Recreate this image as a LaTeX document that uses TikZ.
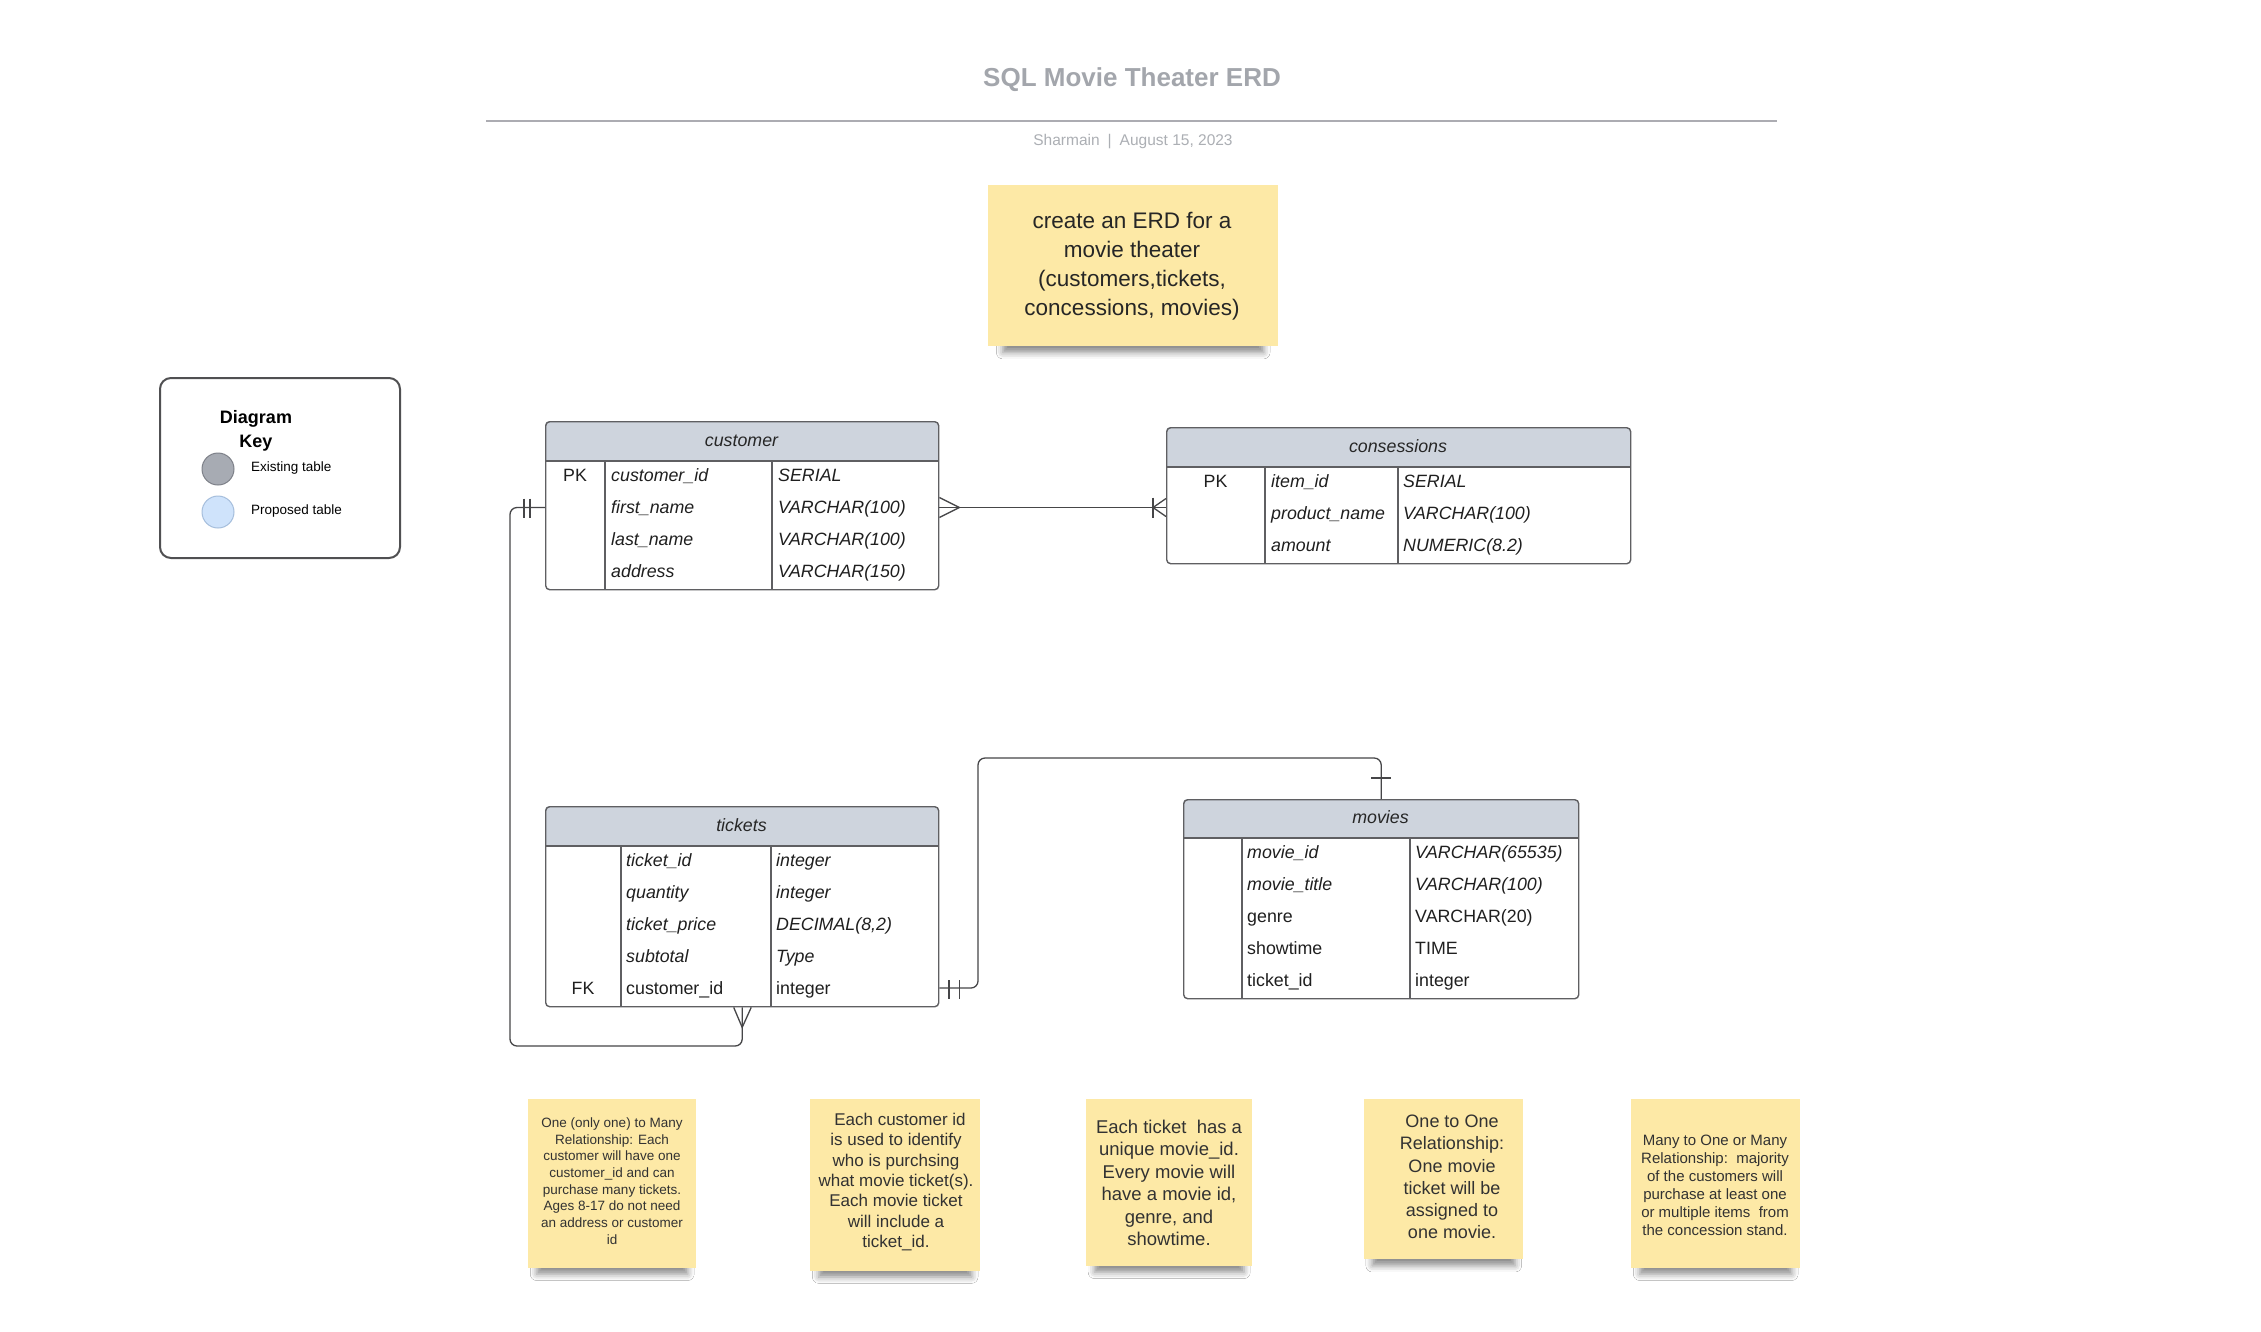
\documentclass[tikz,border=0pt]{standalone}
\usepackage{fontspec}
\setmainfont{Liberation Sans}
\usetikzlibrary{calc,shadows.blur}
\definecolor{hdr}{RGB}{206,212,221}
\definecolor{tline}{RGB}{95,95,98}
\definecolor{stickyc}{RGB}{253,233,166}
\definecolor{titlegray}{RGB}{163,166,172}
\definecolor{rulegray}{RGB}{172,172,178}
\definecolor{connc}{RGB}{70,70,72}
\definecolor{existc}{RGB}{167,171,179}
\definecolor{existb}{RGB}{125,128,136}
\definecolor{propc}{RGB}{207,227,251}
\definecolor{propb}{RGB}{165,190,220}
\definecolor{keyb}{RGB}{80,80,82}
\definecolor{notetext}{RGB}{50,50,50}
\begin{document}
\begin{tikzpicture}[x=1pt,y=-1pt,
  tblbox/.style={draw=tline,line width=1.4pt,rounded corners=4pt,inner sep=0pt},
  tline/.style={draw=tline,line width=1.4pt},
  tt/.style={font=\fontsize{17.8}{20}\selectfont,anchor=west,inner sep=0pt,text height=12.8pt,text depth=0pt,text=black!88},
  ti/.style={tt,font=\fontsize{17.8}{20}\selectfont\itshape},
  tc/.style={tt,anchor=center},
  hd/.style={font=\fontsize{17.8}{20}\selectfont\itshape,inner sep=0pt,text height=12.8pt,text depth=0pt,text=black!85},
  conn/.style={draw=connc,line width=1.3pt},
  note/.style={fill=stickyc,draw=none,inner sep=0pt,anchor=north west,
    blur shadow={shadow xshift=0pt,shadow yshift=-16pt,shadow blur radius=7pt,shadow opacity=45,shadow scale=0.9}},
  notetxt/.style={align=center,inner sep=0pt,text=notetext}
]
\useasboundingbox (0,0) rectangle (2261,1331);
\fill[white] (0,0) rectangle (2261,1331);

% ---------- title ----------
\node[font=\bfseries\fontsize{26}{30}\selectfont,text=titlegray] (title) at (1132,80) {SQL Movie Theater ERD};
\coordinate (ruleL) at (486,121);
\coordinate (ruleR) at (1777,121);
\draw[rulegray,line width=2.2pt] (ruleL) -- (ruleR);
\node[font=\fontsize{15.5}{18}\selectfont,text=titlegray!90] (sub) at (1133,142) {Sharmain\hspace{8pt}|\hspace{8pt}August 15, 2023};

% ---------- top sticky ----------
\node[note,minimum width=290pt,minimum height=161pt] (s0) at (988,185) {};
\node[notetxt,text=black!85,font=\fontsize{22.5}{28.8}\selectfont] (s0t) at (1132,266) {create an ERD for a\\movie theater\\(customers,tickets,\\concessions, movies)};

% ---------- diagram key ----------
\node[draw=keyb,line width=2pt,rounded corners=11pt,minimum width=240pt,minimum height=180pt,anchor=north west,inner sep=0pt] (key) at (159,377) {};
\node[font=\bfseries\fontsize{18}{22}\selectfont] (keyt1) at (256,419) {Diagram};
\node[font=\bfseries\fontsize{18}{22}\selectfont] (keyt2) at (256,443) {Key};
\node[circle,fill=existc,draw=existb,line width=1pt,minimum size=32pt,inner sep=0pt] (kc1) at (218,469) {};
\node[circle,fill=propc,draw=propb,line width=1pt,minimum size=32pt,inner sep=0pt] (kc2) at (218,512) {};
\node[font=\fontsize{13.5}{16}\selectfont,anchor=west,inner sep=0pt] (kl1) at (251,468) {Existing table};
\node[font=\fontsize{13.5}{16}\selectfont,anchor=west,inner sep=0pt] (kl2) at (251,511) {Proposed table};

% ---------- customer ----------
\begin{scope}
\clip[rounded corners=4pt] (545,421) rectangle (938,589);
\fill[hdr] (545,421) rectangle (938,461);
\end{scope}
\node[tblbox,minimum width=393pt,minimum height=168pt,anchor=north west] (customer) at (545,421) {};
\draw[tline] (545,461) -- (938,461) (605,461) -- (605,589) (772,461) -- (772,589);
\node[hd] (cuh) at (741.5,440) {customer};
\node[tc] (cupk) at (575,475) {PK};
\node[ti] (cu1) at (611,475) {customer\_id};
\node[ti] (cu2) at (611,507.5) {first\_name};
\node[ti] (cu3) at (611,539.5) {last\_name};
\node[ti] (cu4) at (611,571) {address};
\node[ti] (cut1) at (778,475) {SERIAL};
\node[ti] (cut2) at (778,507.5) {VARCHAR(100)};
\node[ti] (cut3) at (778,539.5) {VARCHAR(100)};
\node[ti] (cut4) at (778,571) {VARCHAR(150)};

% ---------- consessions ----------
\begin{scope}
\clip[rounded corners=4pt] (1166,427) rectangle (1630,563);
\fill[hdr] (1166,427) rectangle (1630,467);
\end{scope}
\node[tblbox,minimum width=464pt,minimum height=136pt,anchor=north west] (consessions) at (1166,427) {};
\draw[tline] (1166,467) -- (1630,467) (1265,467) -- (1265,563) (1398,467) -- (1398,563);
\node[hd] (coh) at (1398,446) {consessions};
\node[tc] (copk) at (1215.5,481) {PK};
\node[ti] (co1) at (1271,481) {item\_id};
\node[ti] (co2) at (1271,513) {product\_name};
\node[ti] (co3) at (1271,545) {amount};
\node[ti] (cot1) at (1403,481) {SERIAL};
\node[ti] (cot2) at (1403,513) {VARCHAR(100)};
\node[ti] (cot3) at (1403,545) {NUMERIC(8.2)};

% ---------- tickets ----------
\begin{scope}
\clip[rounded corners=4pt] (545,806) rectangle (938,1006);
\fill[hdr] (545,806) rectangle (938,846);
\end{scope}
\node[tblbox,minimum width=393pt,minimum height=200pt,anchor=north west] (tickets) at (545,806) {};
\draw[tline] (545,846) -- (938,846) (621,846) -- (621,1006) (771,846) -- (771,1006);
\node[hd] (tkh) at (741.5,825) {tickets};
\node[ti] (tk1) at (626,860) {ticket\_id};
\node[ti] (tk2) at (626,892) {quantity};
\node[ti] (tk3) at (626,924) {ticket\_price};
\node[ti] (tk4) at (626,956) {subtotal};
\node[tt] (tk5) at (626,988) {customer\_id};
\node[tc] (tkfk) at (583,988) {FK};
\node[ti] (tkt1) at (776,860) {integer};
\node[ti] (tkt2) at (776,892) {integer};
\node[ti] (tkt3) at (776,924) {DECIMAL(8,2)};
\node[ti] (tkt4) at (776,956) {Type};
\node[tt] (tkt5) at (776,988) {integer};

% ---------- movies ----------
\begin{scope}
\clip[rounded corners=4pt] (1183,799) rectangle (1578,998);
\fill[hdr] (1183,799) rectangle (1578,838);
\end{scope}
\node[tblbox,minimum width=395pt,minimum height=199pt,anchor=north west] (movies) at (1183,799) {};
\draw[tline] (1183,838) -- (1578,838) (1242,838) -- (1242,998) (1410,838) -- (1410,998);
\node[hd] (mvh) at (1380.5,817) {movies};
\node[ti] (mv1) at (1247,852) {movie\_id};
\node[ti] (mv2) at (1247,884) {movie\_title};
\node[tt] (mv3) at (1247,916) {genre};
\node[tt] (mv4) at (1247,948) {showtime};
\node[tt] (mv5) at (1247,980) {ticket\_id};
\node[ti] (mvt1) at (1415,852) {VARCHAR(65535)};
\node[ti] (mvt2) at (1415,884) {VARCHAR(100)};
\node[tt] (mvt3) at (1415,916) {VARCHAR(20)};
\node[tt] (mvt4) at (1415,948) {TIME};
\node[tt] (mvt5) at (1415,980) {integer};

% ---------- connectors ----------
% customer -- consessions
\coordinate (ce) at (customer.east |- cu2);
\coordinate (cw) at (consessions.west |- cu2);
\draw[conn] (ce) -- (cw);
\draw[conn] ($(ce)+(0,-10)$) -- ($(ce)+(20,0)$) -- ($(ce)+(0,10)$);
\draw[conn] ($(cw)+(0,-9)$) -- ($(cw)+(-13,0)$) -- ($(cw)+(0,9)$);
\draw[conn] ($(cw)+(-13,-10)$) -- ($(cw)+(-13,10)$);

% customer -- tickets
\coordinate (cwest) at (customer.west |- cu2);
\coordinate (k1) at (510,1046);
\draw[conn,rounded corners=7pt] (cwest) -| (k1) -| (tickets.south);
\draw[conn] ($(cwest)+(-21,-9)$) -- ($(cwest)+(-21,10)$);
\draw[conn] ($(cwest)+(-15,-9)$) -- ($(cwest)+(-15,10)$);
\draw[conn] ($(tickets.south)+(-8.5,0)$) -- ($(tickets.south)+(0,20)$) -- ($(tickets.south)+(9,0)$);

% tickets -- movies
\coordinate (teast) at (tickets.east |- tk5);
\coordinate (k2) at (978,758);
\draw[conn,rounded corners=7pt] (teast) -| (k2) -| (movies.north);
\draw[conn] ($(teast)+(9.5,-8)$) -- ($(teast)+(9.5,11)$);
\draw[conn] ($(teast)+(20,-8)$) -- ($(teast)+(20,11)$);
\draw[conn] ($(movies.north)+(-10,-21)$) -- ($(movies.north)+(10,-21)$);

% ---------- bottom stickies ----------
\node[note,minimum width=168pt,minimum height=169pt] (s1) at (528,1099) {};
\node[notetxt,font=\fontsize{13.5}{16.7}\selectfont] (s1t) at (612,1181) {One (only one) to Many\\Relationship: Each\\customer will have one\\customer\_id and can\\purchase many tickets.\\Ages 8-17 do not need\\an address or customer\\id};

\node[note,minimum width=170pt,minimum height=172pt] (s2) at (810,1099) {};
\node[notetxt,font=\fontsize{17}{20.4}\selectfont] (s2t) at (896,1182) {\hspace*{8pt}Each customer id\\is used to identify\\who is purchsing\\what movie ticket(s).\\Each movie ticket\\will include a\\ticket\_id.};

\node[note,minimum width=166pt,minimum height=167pt] (s3) at (1086,1099) {};
\node[notetxt,font=\fontsize{18.5}{22.5}\selectfont] (s3t) at (1169,1183) {Each ticket\ \ has a\\unique movie\_id.\\Every movie will\\have a movie id,\\genre, and\\showtime.};

\node[note,minimum width=159pt,minimum height=160pt] (s4) at (1364,1099) {};
\node[notetxt,font=\fontsize{18}{22.2}\selectfont] (s4t) at (1452,1177) {One to One\\Relationship:\\One movie\\ticket will be\\assigned to\\one movie.};

\node[note,minimum width=169pt,minimum height=169pt] (s5) at (1631,1099) {};
\node[notetxt,font=\fontsize{15}{18}\selectfont] (s5t) at (1715,1185) {Many to One or Many\\Relationship:\ \ majority\\of the customers will\\purchase at least one\\or multiple items\ \ from\\the concession stand.};
\end{tikzpicture}
\end{document}
